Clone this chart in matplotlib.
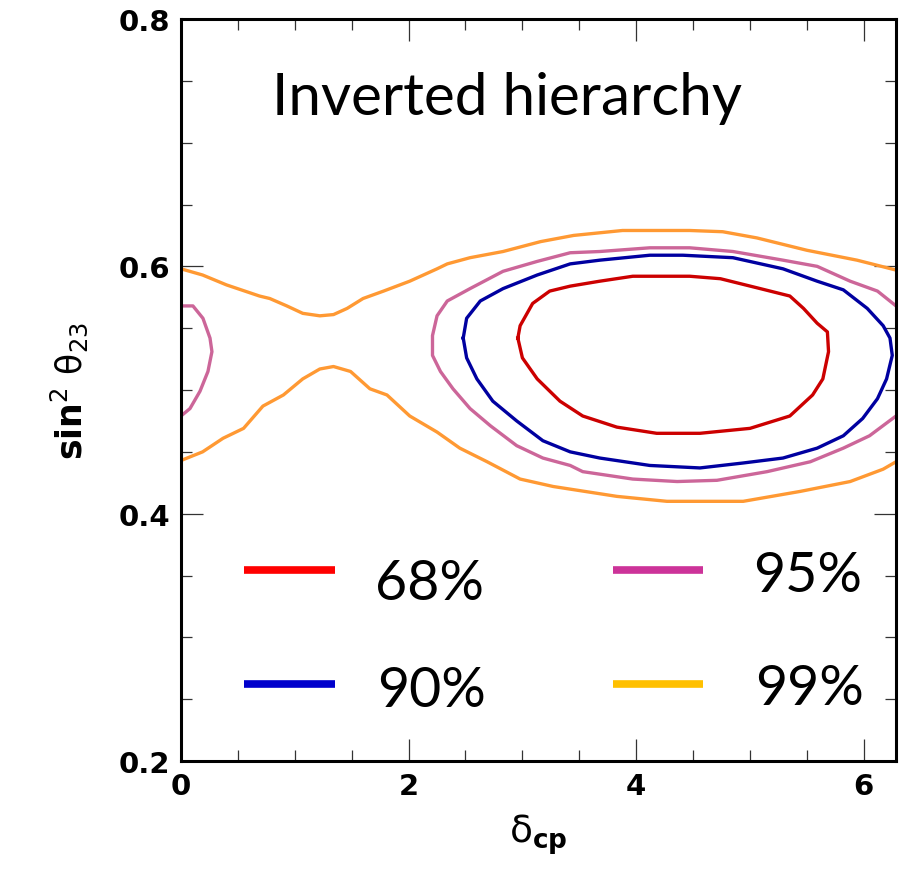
import numpy as np
import matplotlib
matplotlib.use('Agg')
from matplotlib import pyplot as plt
from matplotlib.ticker import MultipleLocator

plt.rcParams['mathtext.fontset'] = 'dejavusans'

# 68% contour
red_x = [2.96, 2.98, 3.09, 3.24, 3.42, 3.68, 3.97, 4.47, 4.74, 5.09, 5.35, 5.47, 5.59, 5.68,
         5.69, 5.64, 5.55, 5.35, 5.00, 4.56, 4.18, 3.83, 3.53, 3.33, 3.13, 3.00, 2.96]
red_y = [0.542, 0.552, 0.570, 0.580, 0.584, 0.588, 0.592, 0.592, 0.590, 0.582, 0.576, 0.566, 0.554, 0.547,
         0.531, 0.509, 0.496, 0.479, 0.469, 0.465, 0.465, 0.470, 0.479, 0.491, 0.509, 0.526, 0.542]

# 90% contour
blue_x = [2.48, 2.51, 2.63, 2.83, 3.13, 3.42, 3.68, 4.12, 4.41, 4.85, 5.29, 5.59, 5.82, 6.03, 6.17, 6.23, 6.25,
          6.20, 6.12, 5.99, 5.82, 5.59, 5.29, 4.94, 4.56, 4.12, 3.68, 3.42, 3.18, 2.95, 2.74, 2.60, 2.51, 2.48]
blue_y = [0.542, 0.558, 0.572, 0.582, 0.593, 0.602, 0.605, 0.609, 0.609, 0.607, 0.598, 0.588, 0.581, 0.566, 0.552, 0.542, 0.528,
          0.509, 0.493, 0.477, 0.463, 0.453, 0.445, 0.441, 0.437, 0.439, 0.445, 0.450, 0.459, 0.475, 0.491, 0.509, 0.526, 0.542]

# 95% contour (main piece + piece wrapping round at delta=0)
mag_x = [6.283, 6.12, 5.88, 5.59, 5.29, 4.85, 4.47, 4.12, 3.68, 3.42, 3.13, 2.83, 2.54, 2.34, 2.25, 2.21, 2.21,
         2.28, 2.39, 2.54, 2.72, 2.95, 3.18, 3.42, 3.53, 3.97, 4.36, 4.71, 5.15, 5.53, 5.82, 6.05, 6.283]
mag_y = [0.568, 0.580, 0.588, 0.600, 0.605, 0.612, 0.615, 0.615, 0.612, 0.611, 0.604, 0.596, 0.582, 0.572, 0.560, 0.544, 0.528,
         0.515, 0.501, 0.485, 0.471, 0.455, 0.445, 0.439, 0.434, 0.428, 0.426, 0.427, 0.434, 0.442, 0.453, 0.463, 0.479]
magL_x = [0.0, 0.105, 0.193, 0.255, 0.272, 0.237, 0.167, 0.079, 0.0]
magL_y = [0.568, 0.568, 0.558, 0.542, 0.531, 0.515, 0.499, 0.485, 0.479]

# 99% contour (upper and lower branches)
orT_x = [0.0, 0.19, 0.40, 0.69, 0.78, 0.93, 1.07, 1.22, 1.34, 1.46, 1.60, 1.78, 2.01,
         2.25, 2.34, 2.54, 2.83, 3.16, 3.45, 3.88, 4.47, 4.76, 5.06, 5.50, 5.94, 6.283]
orT_y = [0.598, 0.593, 0.585, 0.576, 0.574, 0.568, 0.562, 0.560, 0.561, 0.566, 0.574, 0.580, 0.588,
         0.598, 0.602, 0.607, 0.612, 0.620, 0.625, 0.629, 0.629, 0.628, 0.623, 0.613, 0.605, 0.597]
orB_x = [0.0, 0.19, 0.37, 0.55, 0.72, 0.90, 1.07, 1.22, 1.34, 1.49, 1.66, 1.81, 2.01,
         2.25, 2.45, 2.69, 2.98, 3.27, 3.83, 4.27, 4.94, 5.44, 5.88, 6.17, 6.283]
orB_y = [0.443, 0.450, 0.461, 0.469, 0.487, 0.496, 0.509, 0.517, 0.519, 0.515, 0.501, 0.496, 0.479,
         0.466, 0.453, 0.442, 0.428, 0.422, 0.414, 0.410, 0.410, 0.418, 0.426, 0.436, 0.442]

leg_labels = ['68%', '90%', '95%', '99%']
leg_colors = ['#FF0000', '#0000CC', '#CC3399', '#FFC000']

fig = plt.figure(figsize=(9.04, 8.70), dpi=100)
ax = fig.add_axes([0.2002, 0.1241, 0.7910, 0.8529])

lw = 2.4
ax.plot(orT_x, orT_y, color='#FF9933', lw=lw)
ax.plot(orB_x, orB_y, color='#FF9933', lw=lw)
ax.plot(mag_x, mag_y, color='#CC6699', lw=lw)
ax.plot(magL_x, magL_y, color='#CC6699', lw=lw)
ax.plot(blue_x, blue_y, color='#0000A0', lw=lw)
ax.plot(red_x, red_y, color='#CC0000', lw=lw)

ax.set_xlim(0, 2 * np.pi)
ax.set_ylim(0.2, 0.8)
ax.xaxis.set_major_locator(MultipleLocator(2))
ax.xaxis.set_minor_locator(MultipleLocator(0.5))
ax.yaxis.set_major_locator(MultipleLocator(0.2))
ax.yaxis.set_minor_locator(MultipleLocator(0.05))
ax.xaxis.set_major_formatter(plt.FuncFormatter(lambda v, p: '%d' % v))
ax.yaxis.set_major_formatter(plt.FuncFormatter(lambda v, p: '%.1f' % v))
ax.tick_params(which='both', direction='in', top=True, right=True, width=0.9, color='#333333')
ax.tick_params(which='major', length=16, labelsize=21)
ax.tick_params(which='minor', length=8)
ax.tick_params(axis='y', which='major', pad=8)
ax.tick_params(axis='x', which='major', pad=8)
for lab in ax.get_xticklabels() + ax.get_yticklabels():
    lab.set_fontweight('heavy')
for s in ax.spines.values():
    s.set_linewidth(2.2)

ax.set_xlabel(r'$\mathrm{\delta}_{\mathbf{cp}}$', fontsize=27, labelpad=8)
ax.set_ylabel(r'$\mathbf{sin}^{2}\ \mathrm{\theta}_{23}$', fontsize=25, labelpad=20)

ax.text(0.127, 0.872, 'Inverted hierarchy', transform=ax.transAxes,
        fontsize=42, family='Lato', va='baseline', ha='left')

# hand-placed legend
lx = [(0.088, 0.215), (0.088, 0.215), (0.604, 0.730), (0.604, 0.730)]
ly = [0.257, 0.104, 0.257, 0.104]
tx = [0.271, 0.274, 0.80, 0.803]
tb = [0.218, 0.074, 0.229, 0.077]
for i in range(4):
    ax.plot(lx[i], [ly[i], ly[i]], color=leg_colors[i], lw=5.5, transform=ax.transAxes,
            solid_capstyle='butt')
    ax.text(tx[i], tb[i], leg_labels[i], transform=ax.transAxes, fontsize=40,
            family='Lato', va='baseline', ha='left')

fig.savefig('out.png', dpi=100)
